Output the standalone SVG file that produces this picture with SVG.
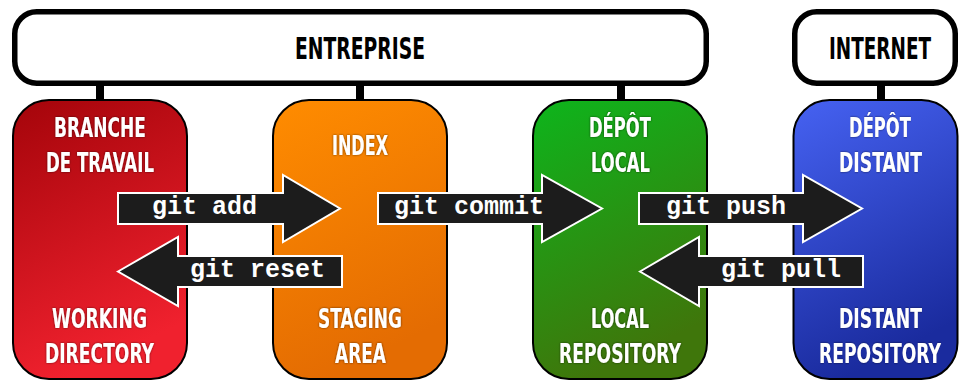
<svg xmlns="http://www.w3.org/2000/svg" width="959" height="381" viewBox="0 0 959 381">
<defs>
<linearGradient id="gRed" x1="0" y1="0" x2="0.3" y2="1"><stop offset="0" stop-color="#a4040a"/><stop offset="1" stop-color="#f0212e"/></linearGradient>
<linearGradient id="gOrange" x1="0" y1="0" x2="0.3" y2="1"><stop offset="0" stop-color="#ff8c00"/><stop offset="1" stop-color="#e46c02"/></linearGradient>
<linearGradient id="gGreen" x1="0" y1="0" x2="0.3" y2="1"><stop offset="0" stop-color="#0db51c"/><stop offset="1" stop-color="#3f760b"/></linearGradient>
<linearGradient id="gBlue" x1="0" y1="0" x2="0.3" y2="1"><stop offset="0" stop-color="#4662f2"/><stop offset="1" stop-color="#1a2b9e"/></linearGradient>
<filter id="halo" x="-10%" y="-30%" width="120%" height="160%"><feDropShadow dx="0" dy="0" stdDeviation="1" flood-color="#000" flood-opacity="0.6"/></filter>
</defs>
<style>
.frame{fill:#fff;stroke:#000;stroke-width:5.5}
.stub{fill:#000}
.node{stroke:#000;stroke-width:2}
.title{font-family:'DejaVu Sans Condensed','DejaVu Sans',sans-serif;font-weight:bold;font-size:30px;fill:#000}
.lbl{font-family:'DejaVu Sans Condensed','DejaVu Sans',sans-serif;font-weight:bold;font-size:27px;fill:#fff;filter:url(#halo)}
.arrow{fill:#1c1c1c;stroke:#fff;stroke-width:2;stroke-linejoin:miter}
.cmd{font-family:'Liberation Mono','Courier New',monospace;font-weight:bold;font-size:25px;fill:#fff}
</style>
<g id="entreprise">
<rect class="frame" x="14.75" y="11.75" width="691.5" height="71.5" rx="22"/>
<text class="title" x="295" y="59" textLength="130" lengthAdjust="spacingAndGlyphs">ENTREPRISE</text>
</g>
<g id="internet">
<rect class="frame" x="794.75" y="11.75" width="160.5" height="71.5" rx="22"/>
<text class="title" transform="translate(829,59) scale(0.7,1)" x="0" y="0" textLength="145.7" lengthAdjust="spacingAndGlyphs">INTERNET</text>
</g>
<g id="stubs">
<rect class="stub" x="96" y="84" width="8" height="17"/>
<rect class="stub" x="356" y="84" width="8" height="17"/>
<rect class="stub" x="617" y="84" width="8" height="17"/>
<rect class="stub" x="877" y="84" width="8" height="17"/>
</g>
<g id="working">
<rect class="node" x="13" y="100" width="174" height="279" rx="36" fill="url(#gRed)"/>
<text class="lbl" x="54" y="137" textLength="92" lengthAdjust="spacingAndGlyphs">BRANCHE</text>
<text class="lbl" x="46" y="172" textLength="108" lengthAdjust="spacingAndGlyphs">DE TRAVAIL</text>
<text class="lbl" x="52" y="328" textLength="95" lengthAdjust="spacingAndGlyphs">WORKING</text>
<text class="lbl" x="45" y="363" textLength="109" lengthAdjust="spacingAndGlyphs">DIRECTORY</text>
</g>
<g id="index">
<rect class="node" x="273" y="100" width="174" height="279" rx="36" fill="url(#gOrange)"/>
<text class="lbl" x="332" y="155" textLength="56" lengthAdjust="spacingAndGlyphs">INDEX</text>
<text class="lbl" x="318" y="328" textLength="84" lengthAdjust="spacingAndGlyphs">STAGING</text>
<text class="lbl" x="335" y="363" textLength="51" lengthAdjust="spacingAndGlyphs">AREA</text>
</g>
<g id="local">
<rect class="node" x="533" y="100" width="174" height="279" rx="36" fill="url(#gGreen)"/>
<text class="lbl" x="589" y="137" textLength="62" lengthAdjust="spacingAndGlyphs">DÉPÔT</text>
<text class="lbl" x="591" y="172" textLength="59" lengthAdjust="spacingAndGlyphs">LOCAL</text>
<text class="lbl" x="591" y="328" textLength="58" lengthAdjust="spacingAndGlyphs">LOCAL</text>
<text class="lbl" x="559" y="363" textLength="122" lengthAdjust="spacingAndGlyphs">REPOSITORY</text>
</g>
<g id="distant">
<rect class="node" x="793.5" y="100" width="164" height="279" rx="36" fill="url(#gBlue)"/>
<text class="lbl" transform="translate(849,137) scale(0.7,1)" x="0" y="0" textLength="88.6" lengthAdjust="spacingAndGlyphs">DÉPÔT</text>
<text class="lbl" transform="translate(839,172) scale(0.7,1)" x="0" y="0" textLength="118.6" lengthAdjust="spacingAndGlyphs">DISTANT</text>
<text class="lbl" transform="translate(839,328) scale(0.7,1)" x="0" y="0" textLength="118.6" lengthAdjust="spacingAndGlyphs">DISTANT</text>
<text class="lbl" transform="translate(819,363) scale(0.7,1)" x="0" y="0" textLength="174.3" lengthAdjust="spacingAndGlyphs">REPOSITORY</text>
</g>
<g id="connectors">
<g id="git-add">
<polygon class="arrow" points="118,193 283,193 283,175 340,208.5 283,242 283,224 118,224"/>
<text class="cmd" x="152" y="214">git add</text>
</g>
<g id="git-commit">
<polygon class="arrow" points="378,193 542,193 542,175 602,208.5 542,242 542,224 378,224"/>
<text class="cmd" x="394" y="214">git commit</text>
</g>
<g id="git-push">
<polygon class="arrow" points="639,193 803,193 803,175 862,208.5 803,242 803,224 639,224"/>
<text class="cmd" x="666" y="214">git push</text>
</g>
<g id="git-reset">
<polygon class="arrow" points="118,271.5 178,237 178,256 342,256 342,287 178,287 178,306"/>
<text class="cmd" x="190" y="277">git reset</text>
</g>
<g id="git-pull">
<polygon class="arrow" points="640,271.5 699,237 699,256 863,256 863,287 699,287 699,306"/>
<text class="cmd" x="721" y="277">git pull</text>
</g>
</g>
</svg>
